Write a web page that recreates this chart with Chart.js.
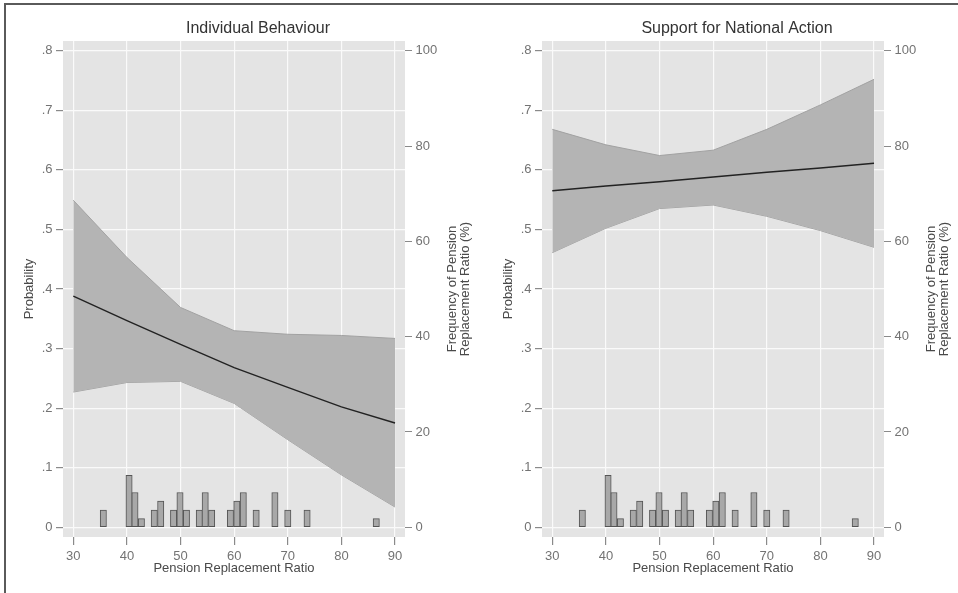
<!DOCTYPE html>
<html>
<head>
<meta charset="utf-8">
<script src="https://cdn.jsdelivr.net/npm/chart.js@4.4.0/dist/chart.umd.min.js"></script>
<style>
  body { margin: 0; background: #fff; }
  #wrap { position: relative; width: 958px; height: 593px; overflow: hidden; }
  canvas { position: absolute; top: 0; }
  #frame { position: absolute; left: 4px; top: 3px; right: -10px; bottom: -10px;
           border-top: 2px solid #5a5a5a; border-left: 2px solid #5a5a5a; pointer-events: none; }
</style>
</head>
<body>
<div id="wrap">
  <canvas id="indiv" width="479" height="593" style="left:0"></canvas>
  <canvas id="national" width="479" height="593" style="left:479px"></canvas>
  <div id="frame"></div>
</div>
<script>
// predicted probabilities at each pension replacement ratio
var xPoints = [30, 40, 50, 60, 70, 80, 90];

var indivFit   = [0.388, 0.347, 0.307, 0.268, 0.235, 0.202, 0.175];
var indivUpper = [0.549, 0.453, 0.369, 0.330, 0.324, 0.322, 0.317];
var indivLower = [0.227, 0.243, 0.245, 0.208, 0.147, 0.088, 0.034];

var nationalFit   = [0.565, 0.573, 0.580, 0.588, 0.596, 0.603, 0.611];
var nationalUpper = [0.668, 0.642, 0.624, 0.633, 0.668, 0.709, 0.752];
var nationalLower = [0.461, 0.502, 0.535, 0.541, 0.522, 0.498, 0.470];

// histogram of replacement ratios (% of countries)
var histX    = [35.6, 40.4, 41.5, 42.7, 45.1, 46.3, 48.7, 49.9, 51.1, 53.5,
                54.6, 55.8, 59.3, 60.5, 61.7, 64.1, 67.6, 70.0, 73.6, 86.5];
var histFreq = [3.6, 10.9, 7.3, 1.8, 3.6, 5.5, 3.6, 7.3, 3.6, 3.6,
                7.3, 3.6, 3.6, 5.5, 7.3, 3.6, 7.3, 3.6, 3.6, 1.8];

var xTicks    = [30, 40, 50, 60, 70, 80, 90];
var probTicks = [0, 0.1, 0.2, 0.3, 0.4, 0.5, 0.6, 0.7, 0.8];
var freqTicks = [0, 20, 40, 60, 80, 100];

var xTitle = 'Pension Replacement Ratio';
var yTitle = 'Probability';
var y2Title = ['Frequency of Pension', 'Replacement Ratio (%)'];

Chart.defaults.font.family = '"Liberation Sans", Arial, Helvetica, sans-serif';
Chart.defaults.font.size = 13;

function pts(ys) {
    return xPoints.map(function(x, i) { return {x: x, y: ys[i]}; });
}

var panelDecor = {
    id: 'panelDecor',
    beforeDraw: function(chart) {
        var ctx = chart.ctx, a = chart.chartArea;
        ctx.save();
        ctx.fillStyle = '#e4e4e4';
        ctx.fillRect(a.left, a.top, a.right - a.left, a.bottom - a.top);
        ctx.restore();
    },
    afterDraw: function(chart, args, opts) {
        var ctx = chart.ctx;
        ctx.save();
        ctx.fillStyle = '#333';
        ctx.font = '16px "Liberation Sans", Arial, sans-serif';
        ctx.textAlign = 'center';
        ctx.textBaseline = 'middle';
        ctx.fillText(opts.title, 258, 29);
        // right axis title reads bottom to top
        ctx.font = '13px "Liberation Sans", Arial, sans-serif';
        ctx.fillStyle = '#4a4a4a';
        ctx.translate(458.5, 289);
        ctx.rotate(-Math.PI / 2);
        ctx.fillText(y2Title[0], 0, -6.5);
        ctx.fillText(y2Title[1], 0, 6.5);
        ctx.restore();
    }
};

function makePanel(id, title, fit, upper, lower) {
    var ctx = document.getElementById(id).getContext('2d');
    return new Chart(ctx, {
        type: 'line',
        data: {
            datasets: [{
                data: pts(upper),
                borderColor: '#a2a2a2',
                borderWidth: 1,
                backgroundColor: '#b4b4b4',
                fill: '+1',
                pointRadius: 0,
                order: 3
            }, {
                data: pts(lower),
                borderColor: '#a2a2a2',
                borderWidth: 1,
                fill: false,
                pointRadius: 0,
                order: 3
            }, {
                data: pts(fit),
                borderColor: '#222',
                borderWidth: 1.4,
                fill: false,
                pointRadius: 0,
                order: 0
            }, {
                type: 'bar',
                data: histX.map(function(x, i) { return {x: x, y: histFreq[i]}; }),
                yAxisID: 'y2',
                backgroundColor: '#a8a8a8',
                borderColor: '#555',
                borderWidth: 1,
                borderSkipped: false,
                barThickness: 6.3,
                order: 2
            }]
        },
        options: {
            responsive: false,
            animation: false,
            layout: { padding: { top: 41, left: 0, right: 0, bottom: 0 } },
            plugins: {
                legend: { display: false },
                tooltip: { enabled: false },
                panelDecor: { title: title }
            },
            scales: {
                x: {
                    type: 'linear',
                    min: 28.08,
                    max: 91.86,
                    offset: false,
                    afterBuildTicks: function(s) { s.ticks = xTicks.map(function(v) { return {value: v}; }); },
                    afterFit: function(s) { s.height = 56; },
                    border: { display: false },
                    grid: { offset: false, color: '#fafafa', lineWidth: 1.2, tickColor: '#8a8a8a', tickLength: 8 },
                    ticks: { color: '#737373', padding: 3.5, maxRotation: 0 },
                    title: { display: true, text: xTitle, color: '#4a4a4a', padding: { top: 0, bottom: 16.4 } }
                },
                y: {
                    position: 'left',
                    min: -0.0163,
                    max: 0.8163,
                    afterBuildTicks: function(s) { s.ticks = probTicks.map(function(v) { return {value: v}; }); },
                    afterFit: function(s) { s.width = 63; },
                    border: { display: false },
                    grid: { color: '#fafafa', lineWidth: 1.2, tickColor: '#8a8a8a', tickLength: 7 },
                    ticks: {
                        color: '#737373',
                        padding: 3.5,
                        callback: function(v) { return v === 0 ? '0' : v.toFixed(1).replace(/^0/, ''); }
                    },
                    title: { display: true, text: yTitle, color: '#4a4a4a', padding: { top: 21.2, bottom: 0 } }
                },
                y2: {
                    position: 'right',
                    min: -2.04,
                    max: 102.04,
                    afterBuildTicks: function(s) { s.ticks = freqTicks.map(function(v) { return {value: v}; }); },
                    afterFit: function(s) { s.width = 74; },
                    border: { display: false },
                    grid: { drawOnChartArea: false, tickColor: '#8a8a8a', tickLength: 7 },
                    ticks: { color: '#737373', padding: 3.5 }
                }
            }
        },
        plugins: [panelDecor]
    });
}

makePanel('indiv', 'Individual Behaviour', indivFit, indivUpper, indivLower);
makePanel('national', 'Support for National Action', nationalFit, nationalUpper, nationalLower);
</script>
</body>
</html>
